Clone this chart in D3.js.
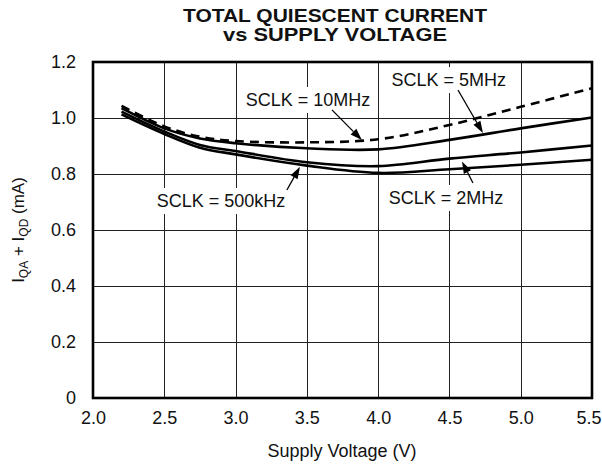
<!DOCTYPE html>
<html>
<head>
<meta charset="utf-8">
<script src="https://cdn.jsdelivr.net/npm/d3@7"></script>
<style>
  html, body { margin: 0; padding: 0; background: #fff; }
  svg { display: block; font-family: "Liberation Sans", Arial, Helvetica, sans-serif; }
</style>
</head>
<body>
<svg id="chart" width="602" height="466"></svg>
<script>
// Supply voltage sample points (V)
const voltage = [2.2, 2.5, 2.75, 3.0, 3.5, 4.0, 4.5, 5.0, 5.5];

// Total quiescent current IQA + IQD (mA) for each SCLK rate
const sclk10MHz  = [1.043, 0.970, 0.933, 0.918, 0.913, 0.924, 0.975, 1.040, 1.106];
const sclk5MHz   = [1.035, 0.963, 0.927, 0.910, 0.892, 0.888, 0.922, 0.963, 1.002];
const sclk2MHz   = [1.023, 0.952, 0.904, 0.882, 0.842, 0.828, 0.855, 0.877, 0.902];
const sclk500kHz = [1.013, 0.943, 0.894, 0.870, 0.830, 0.804, 0.817, 0.833, 0.851];

// Axis ticks
const xTicks = [2.0, 2.5, 3.0, 3.5, 4.0, 4.5, 5.0, 5.5];
const yTicks = [0, 0.2, 0.4, 0.6, 0.8, 1.0, 1.2];

const series = [
  { name: "SCLK = 10MHz",  values: sclk10MHz,  dashed: true },
  { name: "SCLK = 5MHz",   values: sclk5MHz,   dashed: false },
  { name: "SCLK = 2MHz",   values: sclk2MHz,   dashed: false },
  { name: "SCLK = 500kHz", values: sclk500kHz, dashed: false }
];

// Callout labels (data units): label centre/baseline, arrow tail and tip
const callouts = [
  { text: "SCLK = 10MHz",  lx: 3.508, ly: 1.043, ax: 3.676, ay: 1.029, bx: 3.886, by: 0.921 },
  { text: "SCLK = 5MHz",   lx: 4.496, ly: 1.114, ax: 4.560, ay: 1.100, bx: 4.735, by: 0.946 },
  { text: "SCLK = 2MHz",   lx: 4.476, ly: 0.693, ax: 4.665, ay: 0.768, bx: 4.588, by: 0.845 },
  { text: "SCLK = 500kHz", lx: 2.898, ly: 0.682, ax: 3.360, ay: 0.743, bx: 3.452, by: 0.826 }
];

const svg = d3.select("#chart");
const W = 602;
const plot = { left: 93, right: 592, top: 62, bottom: 398 };

const x = d3.scaleLinear().domain([2.0, 5.5]).range([plot.left, plot.right]);
const y = d3.scaleLinear().domain([0, 1.2]).range([plot.bottom, plot.top]);

// Title (two lines, set wide)
const titleLines = [
  { text: "TOTAL QUIESCENT CURRENT", y: 22, width: 304 },
  { text: "vs SUPPLY VOLTAGE",       y: 41, width: 224 }
];
titleLines.forEach(l => {
  svg.append("text")
    .attr("x", 335).attr("y", l.y).attr("text-anchor", "middle")
    .attr("font-weight", "bold").attr("font-size", 18).attr("fill", "#111")
    .attr("textLength", l.width).attr("lengthAdjust", "spacingAndGlyphs")
    .text(l.text);
});

// Grid
const grid = svg.append("g").attr("stroke", "#222").attr("stroke-width", 1);
grid.selectAll("line.v")
  .data(xTicks.filter(d => d > 2.0 && d < 5.5))
  .join("line")
  .attr("x1", d => Math.round(x(d)) + 0.5).attr("x2", d => Math.round(x(d)) + 0.5)
  .attr("y1", plot.top).attr("y2", plot.bottom);
grid.selectAll("line.h")
  .data(yTicks.filter(d => d > 0 && d < 1.2))
  .join("line")
  .attr("y1", d => Math.round(y(d)) + 0.5).attr("y2", d => Math.round(y(d)) + 0.5)
  .attr("x1", plot.left).attr("x2", plot.right);

// Axes (labels only; the frame is drawn separately)
const xAxis = d3.axisBottom(x).tickValues(xTicks).tickFormat(d3.format(".1f")).tickSize(0).tickPadding(13);
const yAxis = d3.axisLeft(y).tickValues(yTicks).tickFormat(d => d === 0 ? "0" : d3.format(".1f")(d)).tickSize(0).tickPadding(17);

const gx = svg.append("g").attr("transform", `translate(0,${plot.bottom})`).call(xAxis);
const gy = svg.append("g").attr("transform", `translate(${plot.left},0)`).call(yAxis);
[gx, gy].forEach(g => {
  g.select(".domain").remove();
  g.selectAll("text").attr("font-size", 18).attr("fill", "#111")
    .attr("font-family", "'Liberation Sans', Arial, sans-serif");
});

// Keep the last x tick label inside the page edge
gx.selectAll(".tick text").each(function (d) {
  const bb = this.getBBox();
  const tickX = x(d);
  const overflow = tickX + bb.x + bb.width - (W - 1);
  if (overflow > 0) d3.select(this).attr("x", -overflow);
});

// Axis titles
svg.append("text")
  .attr("x", 342).attr("y", 457).attr("text-anchor", "middle")
  .attr("font-size", 18).attr("fill", "#111")
  .text("Supply Voltage (V)");

const yTitle = svg.append("text")
  .attr("transform", "translate(24,230) rotate(-90)")
  .attr("text-anchor", "middle").attr("font-size", 17).attr("fill", "#111");
yTitle.append("tspan").text("I");
yTitle.append("tspan").attr("font-size", 12).attr("dy", 4).text("QA");
yTitle.append("tspan").attr("dy", -4).text(" + I");
yTitle.append("tspan").attr("font-size", 12).attr("dy", 4).text("QD");
yTitle.append("tspan").attr("dy", -4).text(" (mA)");

// Callout labels on white backgrounds
const labels = svg.append("g");
callouts.forEach(c => {
  const g = labels.append("g");
  const t = g.append("text")
    .attr("x", x(c.lx)).attr("y", y(c.ly))
    .attr("text-anchor", "middle").attr("font-size", 18).attr("fill", "#111")
    .text(c.text);
  const bb = t.node().getBBox();
  g.insert("rect", "text")
    .attr("x", bb.x - 4).attr("y", bb.y - 3)
    .attr("width", bb.width + 8).attr("height", bb.height + 6)
    .attr("fill", "#fff");
});

// Curves
const line = d3.line()
  .x((d, i) => x(voltage[i]))
  .y(d => y(d))
  .curve(d3.curveCatmullRom.alpha(0.5));

svg.append("g").selectAll("path")
  .data(series)
  .join("path")
  .attr("d", s => line(s.values))
  .attr("fill", "none")
  .attr("stroke", "#000")
  .attr("stroke-width", 2.6)
  .attr("stroke-dasharray", s => s.dashed ? "9,6" : null);

// Arrow lines with filled heads
const arrows = svg.append("g");
callouts.forEach(c => {
  const x0 = x(c.ax), y0 = y(c.ay), x1 = x(c.bx), y1 = y(c.by);
  const ang = Math.atan2(y1 - y0, x1 - x0);
  const len = 12, half = 4;
  const bxp = x1 - len * Math.cos(ang), byp = y1 - len * Math.sin(ang);
  arrows.append("line")
    .attr("x1", x0).attr("y1", y0).attr("x2", bxp).attr("y2", byp)
    .attr("stroke", "#000").attr("stroke-width", 1.3);
  const px = -Math.sin(ang) * half, py = Math.cos(ang) * half;
  arrows.append("path")
    .attr("d", `M${x1},${y1}L${bxp + px},${byp + py}L${bxp - px},${byp - py}Z`)
    .attr("fill", "#000");
});

// Plot frame
svg.append("rect")
  .attr("x", plot.left).attr("y", plot.top)
  .attr("width", plot.right - plot.left).attr("height", plot.bottom - plot.top)
  .attr("fill", "none").attr("stroke", "#000").attr("stroke-width", 2.6);
</script>
</body>
</html>
